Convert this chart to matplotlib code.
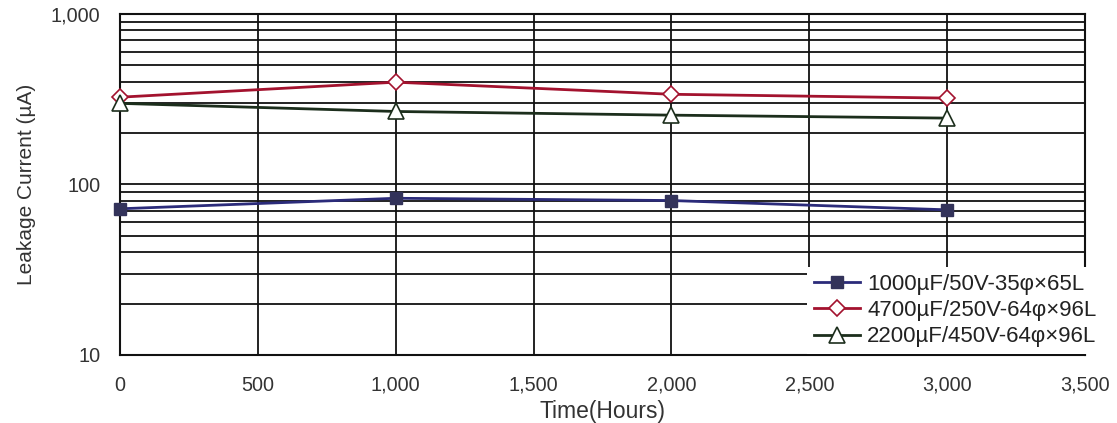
import numpy as np
import matplotlib
matplotlib.use('Agg')
import matplotlib.pyplot as plt
from matplotlib.ticker import FuncFormatter, LogLocator, NullFormatter

plt.rcParams['font.family'] = ['Liberation Sans', 'DejaVu Sans']

# data
hours = [0, 1000, 2000, 3000]
cap_1000uf = [72, 83, 80.5, 71]
cap_4700uf = [325, 398, 338, 321]
cap_2200uf = [299, 268, 255, 245]
labels = ['1000\u00b5F/50V-35\u03c6\u00d765L',
          '4700\u00b5F/250V-64\u03c6\u00d796L',
          '2200\u00b5F/450V-64\u03c6\u00d796L']
xticks = [0, 500, 1000, 1500, 2000, 2500, 3000, 3500]

fig = plt.figure(figsize=(11.17, 4.23), dpi=100)
ax = fig.add_axes([0.1074, 0.1608, 0.8640, 0.8062])

ax.plot(hours, cap_1000uf, color='#2b2b7a', lw=2, marker='s', ms=8,
        mfc='#33335a', mec='#33335a', label=labels[0], zorder=4, clip_on=False)
ax.plot(hours, cap_4700uf, color='#a3122e', lw=2, marker='D', ms=8,
        mfc='white', mec='#a3122e', mew=1.2, label=labels[1], zorder=4, clip_on=False)
ax.plot(hours, cap_2200uf, color='#1c2e1c', lw=2, marker='^', ms=11,
        mfc='white', mec='#1c2e1c', mew=1.2, label=labels[2], zorder=4, clip_on=False)

ax.set_yscale('log')
ax.set_ylim(10, 1000)
ax.set_xlim(0, 3500)
ax.set_xticks(xticks)
ax.xaxis.set_major_formatter(FuncFormatter(lambda v, p: f'{int(v):,}'))
ax.yaxis.set_major_locator(LogLocator(base=10))
ax.yaxis.set_minor_locator(LogLocator(base=10, subs=np.arange(2, 10)))
ax.yaxis.set_major_formatter(FuncFormatter(lambda v, p: f'{int(round(v)):,}'))
ax.yaxis.set_minor_formatter(NullFormatter())

ax.grid(True, which='major', axis='both', color='#111111', lw=1.3)
ax.grid(True, which='minor', axis='y', color='#111111', lw=1.3)
ax.tick_params(which='both', length=0, labelsize=14.3, colors='#333333')
ax.tick_params(axis='x', pad=15)
ax.tick_params(axis='y', pad=14)
for s in ax.spines.values():
    s.set_color('#111111')
    s.set_linewidth(1.5)

ax.set_xlabel('Time(Hours)', fontsize=16.5, color='#333333', labelpad=4)
ax.set_ylabel('Leakage Current (\u00b5A)', fontsize=15, color='#333333', labelpad=11)

leg = ax.legend(loc='lower right', bbox_to_anchor=(1103 / 1117, 69 / 423),
                bbox_transform=fig.transFigure, fontsize=16,
                frameon=True, fancybox=False, handlelength=2.1,
                labelspacing=0.23, borderpad=0.3, handletextpad=0.3,
                borderaxespad=0)
leg.get_frame().set_facecolor('white')
leg.get_frame().set_edgecolor('none')
leg.get_frame().set_alpha(1)
for t in leg.get_texts():
    t.set_color('#222222')

fig.savefig('out.png', dpi=100)
